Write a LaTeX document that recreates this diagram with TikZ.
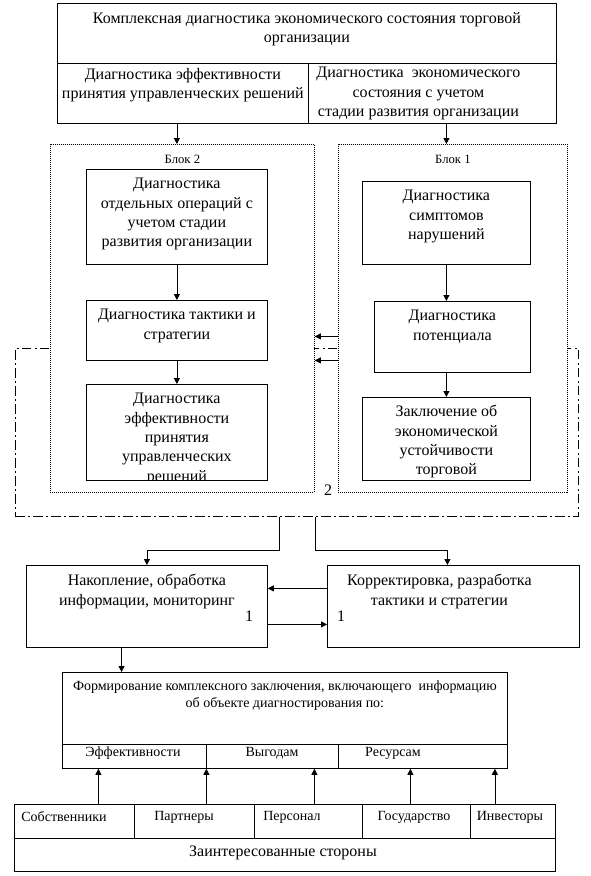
\documentclass[tikz,border=0pt]{standalone}
\usepackage{fontspec}
\setmainfont{Liberation Serif}
\usetikzlibrary{arrows.meta, positioning}

\begin{document}
\begin{tikzpicture}[
    x=0.75pt, y=-0.75pt,
    box/.style={rectangle, draw=black, line width=0.6pt, fill=white,
                inner sep=0pt, anchor=north west},
    blockbox/.style={rectangle, draw=black, line width=0.6pt, fill=white,
                dash pattern=on 0.75pt off 0.75pt,
                inner sep=0pt, anchor=north west},
    loopbox/.style={rectangle, draw=black, line width=0.6pt,
                dash pattern=on 7pt off 2.5pt on 1.5pt off 2.5pt,
                inner sep=0pt, anchor=north west},
    txt/.style={align=center, inner sep=0pt,
                font=\fontsize{12}{14.5}\selectfont},
    smalltxt/.style={align=center, inner sep=0pt,
                font=\fontsize{10.5}{12.75}\selectfont},
    blocktxt/.style={inner sep=0pt, font=\fontsize{9.5}{11}\selectfont},
    arrow/.style={-{Triangle[width=4.5pt,length=4.5pt]}, line width=0.6pt},
    node distance=1cm
]
\useasboundingbox (0,0) rectangle (590,876);

%% ВЕРХНИЙ БЛОК
\node[box, minimum width=374.25pt, minimum height=45pt] (title) at (57,3) {};
\node[txt, below=6.75pt of title.north] (title_t) {
    Комплексная диагностика экономического состояния торговой\\
    организации
};
\node[box, minimum width=188.25pt, minimum height=45pt] (subL) at (57,63) {};
\node[txt, below=3.75pt of subL.north] (subL_t) {
    Диагностика эффективности\\
    принятия управленческих решений
};
\node[box, minimum width=186pt, minimum height=45pt] (subR) at (308,63) {};
\node[txt, below=3pt of subR.north, xshift=-10.5pt] (subR_t) {
    Диагностика\ \ экономического\\
    состояния с учетом\hspace*{30pt}\\
    стадии развития организации
};

%% КОНТУР (штрихпунктир)
\node[loopbox, minimum width=422.25pt, minimum height=126pt] (loop) at (15,348) {};

%% БЛОК 2
\node[blockbox, minimum width=198pt, minimum height=261pt] (blk2) at (50,144) {};
\node[blocktxt, below=8pt of blk2.north] (blk2_t) {Блок 2};

\node[box, minimum width=135.75pt, minimum height=71.25pt] (a2) at (86,169) {};
\node[txt, below=6.75pt of a2.north] (a2_t) {
    Диагностика\\
    отдельных операций с\\
    учетом стадии\\
    развития организации
};
\node[box, minimum width=135.75pt, minimum height=45pt] (b2) at (86,300) {};
\node[txt, below=6.75pt of b2.north] (b2_t) {
    Диагностика тактики и\\
    стратегии
};
\node[box, minimum width=135.75pt, minimum height=72pt] (c2) at (86,384) {};
\begin{scope}
\clip (c2.south west) rectangle (c2.north east);
\node[txt, below=6.75pt of c2.north] (c2_t) {
    Диагностика\\
    эффективности\\
    принятия\\
    управленческих\\
    решений
};
\end{scope}
\draw[line width=0.6pt] (c2.south west) rectangle (c2.north east);

%% БЛОК 1
\node[blockbox, minimum width=171.75pt, minimum height=261pt] (blk1) at (338,144) {};
\node[blocktxt, below=8pt of blk1.north] (blk1_t) {Блок 1};

\node[box, minimum width=126pt, minimum height=62.25pt] (a1) at (362,181) {};
\node[txt, below=6.75pt of a1.north] (a1_t) {
    Диагностика\\
    симптомов\\
    нарушений
};
\node[box, minimum width=117pt, minimum height=53.25pt] (b1) at (374,301) {};
\node[txt, below=6.75pt of b1.north] (b1_t) {
    Диагностика\\
    потенциала
};
\node[box, minimum width=126pt, minimum height=62.25pt] (c1) at (362,397) {};
\node[txt, below=6pt of c1.north] (c1_t) {
    Заключение об\\
    экономической\\
    устойчивости\\
    торговой
};

\node[txt] (two_t) at (328,490) {2};

\draw[arrow] (subL.south -| a2) -- (blk2.north -| a2);
\draw[arrow] (subR.south -| a1) -- (blk1.north -| a1);
\draw[arrow] (a2.south) -- (b2.north);
\draw[arrow] (b2.south) -- (c2.north);
\draw[arrow] (a1.south) -- (b1.north -| a1.south);
\draw[arrow] (b1.south -| a1.south) -- (c1.north);
\draw[arrow] ([yshift=-13.5pt]blk1.west) -- ([yshift=-13.5pt]blk2.east);
\draw[arrow] ([yshift=-31.5pt]blk1.west) -- ([yshift=-31.5pt]blk2.east);

%% НАКОПЛЕНИЕ / КОРРЕКТИРОВКА
\node[box, minimum width=180.75pt, minimum height=61.5pt] (acc) at (26,565) {};
\node[txt, below=6.75pt of acc.north] (acc_t) {
    Накопление, обработка\\
    информации, мониторинг
};
\node[txt] (acc_n) at (249,616) {1};

\node[box, minimum width=189pt, minimum height=61.5pt] (corr) at (327,565) {};
\node[txt, below=6.75pt of corr.north, xshift=-10.5pt] (corr_t) {
    Корректировка, разработка\\
    тактики и стратегии
};
\node[txt] (corr_n) at (341,616) {1};

\draw[arrow] ([xshift=-13pt]loop.south) -- ++(0,34) -| (acc.north);
\draw[arrow] ([xshift=13.9pt]loop.south) -- ++(0,34) -| ([xshift=-4.5pt]corr.north);
\draw[arrow] ([yshift=13.5pt]corr.west) -- ([yshift=13.5pt]acc.east);
\draw[arrow] ([yshift=-13.5pt]acc.east) -- ([yshift=-13.5pt]corr.west);

%% ФОРМИРОВАНИЕ ЗАКЛЮЧЕНИЯ
\node[box, minimum width=333.75pt, minimum height=54pt] (form) at (62,672) {};
\node[smalltxt, below=6.5pt of form.north] (form_t) {
    Формирование комплексного заключения, включающего\ \ информацию\\
    об объекте диагностирования по:
};
\node[box, minimum width=108pt, minimum height=18pt] (f1) at (62,744) {};
\node[box, minimum width=99pt, minimum height=18pt] (f2) at (206,744) {};
\node[box, minimum width=126.75pt, minimum height=18pt] (f3) at (338,744) {};
\node[smalltxt] (f1_t) at (133,753) {Эффективности};
\node[smalltxt] (f2_t) at (272,753) {Выгодам};
\node[smalltxt] (f3_t) at (393,753) {Ресурсам};

\draw[arrow] ([xshift=-19pt]acc.south) -- ([xshift=-19pt]acc.south |- form.north);

%% ЗАИНТЕРЕСОВАННЫЕ СТОРОНЫ
\node[box, minimum width=90pt, minimum height=25.5pt] (own) at (14,804) {};
\node[box, minimum width=90pt, minimum height=25.5pt] (part) at (134,804) {};
\node[box, minimum width=81pt, minimum height=25.5pt] (pers) at (254,804) {};
\node[box, minimum width=81pt, minimum height=25.5pt] (gov) at (362,804) {};
\node[box, minimum width=63.75pt, minimum height=25.5pt] (inv) at (470,804) {};
\node[smalltxt] (own_t) at (64,817) {Собственники};
\node[smalltxt] (part_t) at (184,817) {Партнеры};
\node[smalltxt] (pers_t) at (292,817) {Персонал};
\node[smalltxt] (gov_t) at (414,817) {Государство};
\node[smalltxt] (inv_t) at (510,817) {Инвесторы};

\node[box, minimum width=405.75pt, minimum height=24.75pt] (stake) at (14,838) {};
\node[txt] (stake_t) at (283,853) {Заинтересованные стороны};

\draw[arrow] ([xshift=18pt]own.north) -- ([xshift=18pt]own.north |- f1.south);
\draw[arrow] ([xshift=9pt]part.north) -- ([xshift=9pt]part.north |- f1.south);
\draw[arrow] ([xshift=4.5pt]pers.north) -- ([xshift=4.5pt]pers.north |- f1.south);
\draw[arrow] ([xshift=-4.5pt]gov.north) -- ([xshift=-4.5pt]gov.north |- f1.south);
\draw[arrow] ([xshift=-13.5pt]inv.north) -- ([xshift=-13.5pt]inv.north |- f1.south);

\end{tikzpicture}
\end{document}
